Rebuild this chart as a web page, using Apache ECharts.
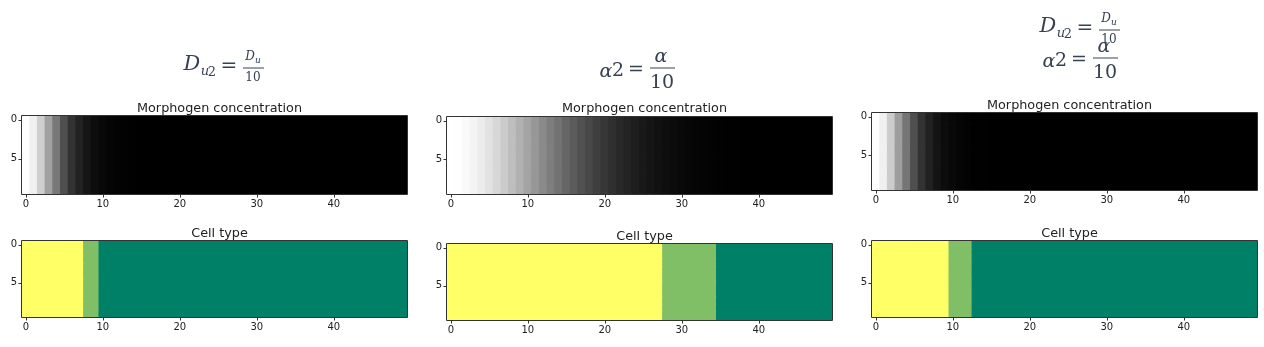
<!DOCTYPE html>
<html>
<head>
<meta charset="utf-8">
<script src="https://cdn.jsdelivr.net/npm/echarts@6/dist/echarts.min.js"></script>
<style>
html,body{margin:0;padding:0;background:#fff;}
#chart{width:1264px;height:347px;}
</style>
</head>
<body>
<div id="chart"></div>
<script>
// ---- data ----
const columns = Array.from({length: 50}, (_, i) => String(i));
const rows = ['0','1','2','3','4','5','6','7','8','9'];
const xTickLabels = ['0','10','20','30','40'];
const yTickLabels = ['0','5'];

// morphogen concentration per column (normalised, read from gray level)
const morphDu = [1, 0.945, 0.81, 0.63, 0.47, 0.31, 0.2, 0.133, 0.082, 0.05,
  0.031, 0.02, 0.012, 0.006, 0.003, 0, 0, 0, 0, 0,
  0, 0, 0, 0, 0, 0, 0, 0, 0, 0,
  0, 0, 0, 0, 0, 0, 0, 0, 0, 0,
  0, 0, 0, 0, 0, 0, 0, 0, 0, 0];
const morphAlpha = [1, 0.996, 0.98, 0.957, 0.925, 0.886, 0.843, 0.796, 0.745, 0.694,
  0.643, 0.592, 0.541, 0.494, 0.447, 0.4, 0.357, 0.318, 0.282, 0.247,
  0.216, 0.188, 0.161, 0.137, 0.118, 0.098, 0.082, 0.067, 0.055, 0.043,
  0.035, 0.027, 0.02, 0.016, 0.012, 0.008, 0.004, 0.004, 0, 0,
  0, 0, 0, 0, 0, 0, 0, 0, 0, 0];
const morphBoth = [1, 0.94, 0.8, 0.62, 0.46, 0.31, 0.2, 0.13, 0.08, 0.048,
  0.03, 0.018, 0.01, 0.005, 0.002, 0, 0, 0, 0, 0,
  0, 0, 0, 0, 0, 0, 0, 0, 0, 0,
  0, 0, 0, 0, 0, 0, 0, 0, 0, 0,
  0, 0, 0, 0, 0, 0, 0, 0, 0, 0];

// cell type per column (2 = yellow, 1 = light green, 0 = dark green)
const cellDu = [2,2,2,2,2,2,2,2,1,1,
  0,0,0,0,0,0,0,0,0,0, 0,0,0,0,0,0,0,0,0,0,
  0,0,0,0,0,0,0,0,0,0, 0,0,0,0,0,0,0,0,0,0];
const cellAlpha = [2,2,2,2,2,2,2,2,2,2, 2,2,2,2,2,2,2,2,2,2,
  2,2,2,2,2,2,2,2,1,1, 1,1,1,1,1,0,0,0,0,0,
  0,0,0,0,0,0,0,0,0,0];
const cellBoth = [2,2,2,2,2,2,2,2,2,2, 1,1,1,0,0,0,0,0,0,0,
  0,0,0,0,0,0,0,0,0,0, 0,0,0,0,0,0,0,0,0,0,
  0,0,0,0,0,0,0,0,0,0];

const panelProfiles = [
  {morph: morphDu, cell: cellDu},
  {morph: morphAlpha, cell: cellAlpha},
  {morph: morphBoth, cell: cellBoth}
];

// ---- layout ----
const gridBoxes = [
  {left: 22, top: 116, width: 385, height: 78},
  {left: 22, top: 241, width: 385, height: 76},
  {left: 447, top: 117, width: 385, height: 77},
  {left: 447, top: 244, width: 385, height: 76},
  {left: 872, top: 113, width: 385, height: 77},
  {left: 872, top: 241, width: 385, height: 76}
];
const titleY = [105, 230, 105, 233, 102, 230];
const subTitles = ['Morphogen concentration', 'Cell type'];

function toGrid1D(profile) {
  const out = [];
  for (let r = 0; r < rows.length; r++) {
    for (let c = 0; c < profile.length; c++) out.push([c, r, profile[c]]);
  }
  return out;
}

function renderCell(params, api) {
  const p = api.coord([api.value(0), api.value(1)]);
  const s = api.size([1, 1]);
  return {
    type: 'rect',
    shape: {x: p[0] - s[0] / 2 - 0.5, y: p[1] - s[1] / 2 - 0.5, width: s[0] + 1, height: s[1] + 1},
    style: {fill: api.visual('color')}
  };
}

const grid = [], xAxis = [], yAxis = [], series = [], title = [], frames = [];
gridBoxes.forEach((g, i) => {
  grid.push(Object.assign({show: false}, g));
  xAxis.push({
    type: 'category', gridIndex: i, data: columns,
    axisLine: {show: false},
    axisTick: {show: true, alignWithLabel: true, length: 3.5, lineStyle: {color: '#333'},
      interval: (idx, v) => xTickLabels.indexOf(v) >= 0},
    axisLabel: {show: true, margin: 5, fontSize: 10, color: '#222', fontFamily: 'DejaVu Sans',
      interval: (idx, v) => xTickLabels.indexOf(v) >= 0},
    splitLine: {show: false}
  });
  yAxis.push({
    type: 'category', gridIndex: i, data: rows, inverse: true,
    axisLine: {show: false},
    axisTick: {show: true, alignWithLabel: true, length: 3.5, lineStyle: {color: '#333'},
      interval: (idx, v) => yTickLabels.indexOf(v) >= 0},
    axisLabel: {show: true, margin: 5, fontSize: 10, color: '#222', fontFamily: 'DejaVu Sans',
      interval: (idx, v) => yTickLabels.indexOf(v) >= 0},
    splitLine: {show: false}
  });
  const p = panelProfiles[Math.floor(i / 2)];
  const isMorph = i % 2 === 0;
  series.push({
    type: 'custom', xAxisIndex: i, yAxisIndex: i,
    data: toGrid1D(isMorph ? p.morph : p.cell),
    encode: {x: 0, y: 1},
    renderItem: renderCell,
    clip: true, silent: true
  });
  title.push({
    text: subTitles[i % 2],
    left: g.left + g.width / 2, top: titleY[i] - 8, textAlign: 'center',
    textStyle: {fontSize: 12.8, fontWeight: 'normal', color: '#222', fontFamily: 'DejaVu Sans'}
  });
  frames.push({type: 'rect', silent: true, z: 100,
    shape: {x: g.left - 0.5, y: g.top - 0.5, width: g.width + 1, height: g.height + 1},
    style: {fill: null, stroke: '#333', lineWidth: 1}});
});

// ---- math headings ----
const mathColor = '#364152';
function t(x, y, s, size, italic) {
  return {type: 'text', x: x, y: y, silent: true,
    style: {text: s, fontSize: size, fontFamily: 'DejaVu Serif', fontStyle: italic ? 'italic' : 'normal',
      fill: mathColor, align: 'center', verticalAlign: 'middle'}};
}
function bar(x1, x2, y) {
  return {type: 'line', silent: true, shape: {x1: x1, y1: y, x2: x2, y2: y}, style: {stroke: mathColor, lineWidth: 1}};
}
function duFormula(dx, dy) {
  return [
    t(192 + dx, 65 + dy, 'D', 21, true),
    t(205 + dx, 72 + dy, 'u', 13, true),
    t(212 + dx, 73 + dy, '2', 13, false),
    t(229 + dx, 67 + dy, '=', 20, false),
    t(250 + dx, 57 + dy, 'D', 12, true),
    t(258 + dx, 61 + dy, 'u', 9, true),
    bar(243 + dx, 264 + dx, 68 + dy),
    t(253 + dx, 78 + dy, '10', 12, false)
  ];
}
function alphaFormula(dx, dy) {
  return [
    t(606 + dx, 72 + dy, 'α', 19, true),
    t(618 + dx, 71 + dy, '2', 19, false),
    t(636 + dx, 70 + dy, '=', 19, false),
    t(661 + dx, 57 + dy, 'α', 19, true),
    bar(650 + dx, 675 + dx, 68 + dy),
    t(662 + dx, 83 + dy, '10', 19, false)
  ];
}
const graphic = [].concat(
  frames,
  duFormula(0, 0),
  alphaFormula(0, 0),
  duFormula(856, -38),
  alphaFormula(443, -10)
);

const option = {
  backgroundColor: '#fff',
  animation: false,
  title: title,
  grid: grid,
  xAxis: xAxis,
  yAxis: yAxis,
  visualMap: [
    {type: 'continuous', show: false, min: 0, max: 1, dimension: 2, seriesIndex: [0, 2, 4],
      inRange: {color: ['#000000', '#ffffff']}},
    {type: 'piecewise', show: false, dimension: 2, seriesIndex: [1, 3, 5],
      pieces: [{value: 0, color: '#008066'}, {value: 1, color: '#80bf66'}, {value: 2, color: '#ffff66'}]}
  ],
  series: series,
  graphic: graphic
};

const chart = echarts.init(document.getElementById('chart'), null, {renderer: 'canvas'});
chart.setOption(option);
</script>
</body>
</html>
